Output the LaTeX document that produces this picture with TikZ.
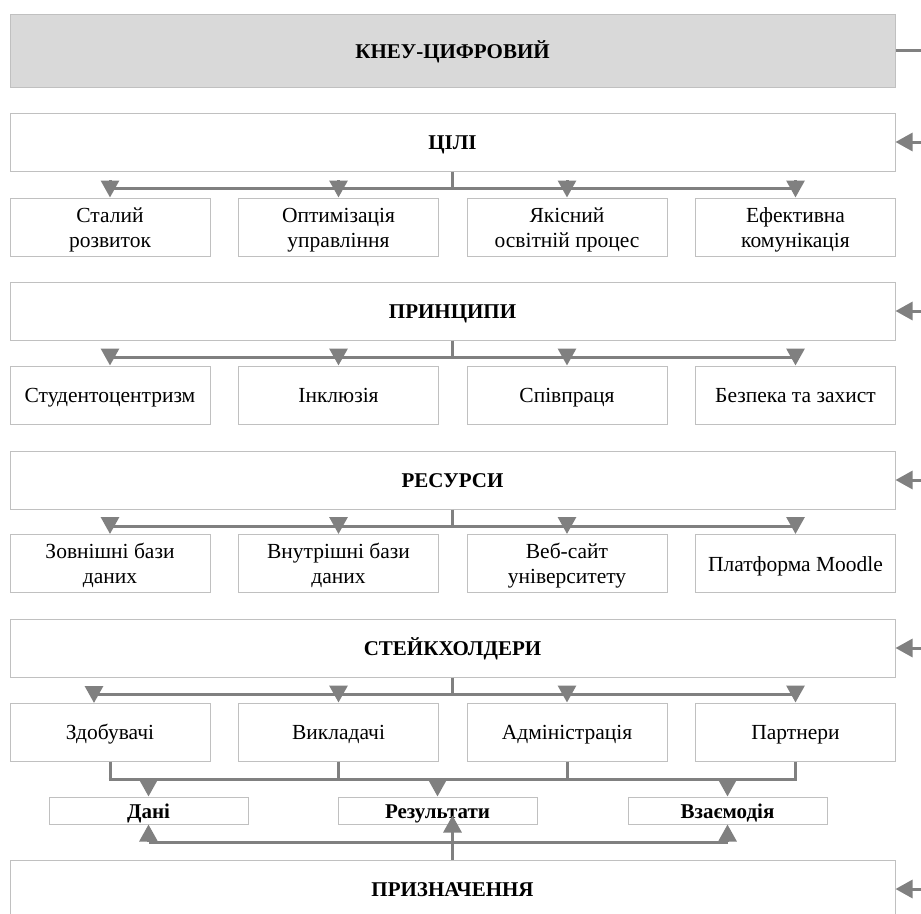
\documentclass[tikz,border=0pt]{standalone}
\usepackage{fontspec}
\setmainfont{Liberation Serif}
\usetikzlibrary{arrows.meta}
\definecolor{linegray}{HTML}{808080}
\definecolor{bordergray}{HTML}{C0C0C0}
\definecolor{topfill}{HTML}{D9D9D9}
\newcommand{\bodyfnt}{\fontsize{21.5}{25}\selectfont}
\newcommand{\headfnt}{\fontsize{21}{25}\selectfont\bfseries}
\newcommand{\tstrutA}{\rule{0pt}{20pt}}
\tikzset{
  box/.style={draw=bordergray, line width=1pt, fill=white, minimum height=58pt, inner sep=0pt, align=center, font=\bodyfnt,
    execute at begin node={\rule{0pt}{20pt}}, execute at end node={\rule[-5pt]{0pt}{5pt}}},
  mainbox/.style={box, minimum width=885pt, font=\headfnt},
  childbox/.style={box, minimum width=200pt},
  smallbox/.style={box, minimum width=199pt, minimum height=27pt, font=\headfnt},
  conn/.style={draw=linegray, line width=3pt},
  arr/.style={conn, -{Triangle[width=18pt,length=17pt]}, fill=linegray},
}
\begin{document}
\begin{tikzpicture}[x=1pt,y=-1pt]
\useasboundingbox (0,0) rectangle (921,913);

% top
\node[mainbox, fill=topfill, minimum height=73pt] (top) at (452.5,50.5) {КНЕУ-ЦИФРОВИЙ};
\coordinate (rtop) at (921,50.5);
\draw[conn] (top.east) -- (rtop);

% row 1
\node[mainbox] (m1) at (452.5,142) {ЦІЛІ};
\node[childbox] (a1) at (110,227) {\tstrutA Сталий\\розвиток};
\node[childbox] (a2) at (338.5,227) {\tstrutA Оптимізація\\управління};
\node[childbox] (a3) at (567,227) {\tstrutA Якісний\\освітній процес};
\node[childbox] (a4) at (795.5,227) {\tstrutA Ефективна\\комунікація};

% row 2
\node[mainbox] (m2) at (452.5,311) {ПРИНЦИПИ};
\node[childbox] (b1) at (110,395) {Студентоцентризм};
\node[childbox] (b2) at (338.5,395) {Інклюзія};
\node[childbox] (b3) at (567,395) {Співпраця};
\node[childbox] (b4) at (795.5,395) {Безпека та захист};

% row 3
\node[mainbox] (m3) at (452.5,480) {РЕСУРСИ};
\node[childbox] (c1) at (110,563.5) {\tstrutA Зовнішні бази\\даних};
\node[childbox] (c2) at (338.5,563.5) {\tstrutA Внутрішні бази\\даних};
\node[childbox] (c3) at (567,563.5) {\tstrutA Веб-сайт\\університету};
\node[childbox] (c4) at (795.5,563.5) {Платформа Moodle};

% row 4
\node[mainbox] (m4) at (452.5,648) {СТЕЙКХОЛДЕРИ};
\node[childbox] (s1) at (110,732) {Здобувачі};
\node[childbox] (s2) at (338.5,732) {Викладачі};
\node[childbox] (s3) at (567,732) {Адміністрація};
\node[childbox] (s4) at (795.5,732) {Партнери};

% small boxes
\node[smallbox] (d1) at (148.5,810.5) {Дані};
\node[smallbox] (d2) at (437.5,810.5) {Результати};
\node[smallbox] (d3) at (727.5,810.5) {Взаємодія};

% purpose
\node[mainbox] (m5) at (452.5,889) {ПРИЗНАЧЕННЯ};

% right side arrows
\foreach \m in {m1,m2,m3,m4,m5}{
  \coordinate (r\m) at (921,0 |- \m.east);
  \draw[arr] (r\m) -- (\m.east);
}

% branches rows 1-3
\coordinate (j1) at (452.5,188);
\coordinate (j2) at (452.5,357);
\coordinate (j3) at (452.5,526);
\coordinate (j4) at (452.5,694);
\draw[conn] (m1.south) -- (j1);
\draw[conn] (a1.north |- j1) -- (a4.north |- j1);
\foreach \c in {a1,a2,a3,a4}{\draw[arr] ([yshift=8pt]\c.north |- j1) -- (\c.north);}
\draw[conn] (m2.south) -- (j2);
\draw[conn] (b1.north |- j2) -- (b4.north |- j2);
\foreach \c in {b1,b2,b3,b4}{\draw[arr] ([yshift=8pt]\c.north |- j2) -- (\c.north);}
\draw[conn] (m3.south) -- (j3);
\draw[conn] (c1.north |- j3) -- (c4.north |- j3);
\foreach \c in {c1,c2,c3,c4}{\draw[arr] ([yshift=8pt]\c.north |- j3) -- (\c.north);}

% row 4 (first arrow offset)
\coordinate (s1in) at (94,703);
\draw[conn] (m4.south) -- (j4);
\draw[conn] (s1in |- j4) -- (s4.north |- j4);
\draw[arr] ([yshift=8pt]s1in |- j4) -- (s1in);
\foreach \c in {s2,s3,s4}{\draw[arr] ([yshift=8pt]\c.north |- j4) -- (\c.north);}

% stakeholders to small boxes
\coordinate (jb) at (452.5,779);
\foreach \c in {s1,s2,s3,s4}{\draw[conn] (\c.south) -- (\c.south |- jb);}
\draw[conn] ([xshift=-1.5pt]s1.south |- jb) -- ([xshift=1.5pt]s4.south |- jb);
\foreach \d in {d1,d2,d3}{\draw[arr] (\d.north |- jb) -- (\d.north);}

% purpose to small boxes
\coordinate (jc) at (452.5,842);
\draw[conn] (d1.south |- jc) -- (d3.south |- jc);
\draw[arr] (d1.south |- jc) -- (d1.south);
\draw[arr] (d3.south |- jc) -- (d3.south);
\draw[arr] (m5.north) -- ([yshift=9pt]m5.north |- d2.south);
\end{tikzpicture}
\end{document}
